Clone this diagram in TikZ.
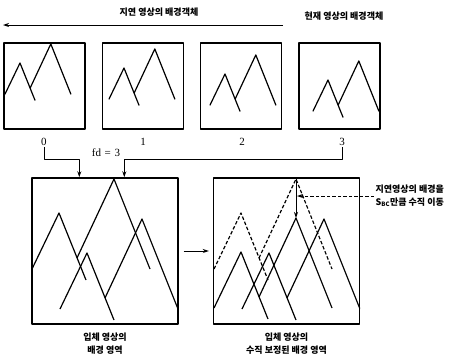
\documentclass[tikz,border=0pt]{standalone}
\usepackage{fontspec}
\setmainfont{Liberation Serif}
\newfontfamily\kr{Noto Sans CJK KR}
\usetikzlibrary{positioning,arrows.meta}

\tikzset{
  peaks/.pic={
    \draw (-27,56) -- (0,0) -- (27,67);
    \draw (18,45) -- (55,-34) -- (91,56);
    \coordinate (-top) at (55,-34);
  },
}

\begin{document}
\begin{tikzpicture}[
  x=1pt, y=-1pt,
  line width=1.2pt, line join=round,
  frame/.style={draw, line width=1.4pt, minimum width=81pt, minimum height=86pt, inner sep=0pt},
  bigframe/.style={frame, minimum width=146pt, minimum height=146pt},
  kor/.style={font=\kr\bfseries\fontsize{9}{13}\selectfont, align=center, inner sep=1pt},
  num/.style={font=\fontsize{11}{13}\selectfont, inner sep=1pt},
  arr/.style={-{Stealth[length=6pt,width=4pt]}, line width=1pt},
  moved/.style={dash pattern=on 3.5pt off 2pt},
]
  \useasboundingbox (0,0) rectangle (459,357);
  % frame sequence
  \node[kor] (past) at (159,12) {지연 영상의 배경객체};
  \node[kor] (now)  at (344,16) {현재 영상의 배경객체};
  \coordinate (tr) at (283,25);
  \coordinate (tl) at (3,25);
  \draw[arr] (tr) -- (tl);
  \node[frame] (f0) at (44.5,86) {};
  \node[frame] (f1) at (143,86)  {};
  \node[frame] (f2) at (241,86)  {};
  \node[frame] (f3) at (339.5,86) {};
  \begin{scope}
    \clip (f0.north west) rectangle (f0.south east);
    \pic[scale=0.56] at (20,63) {peaks};
  \end{scope}
  \begin{scope}
    \clip (f1.north west) rectangle (f1.south east);
    \pic[scale=0.56] at (124,68) {peaks};
  \end{scope}
  \begin{scope}
    \clip (f2.north west) rectangle (f2.south east);
    \pic[scale=0.56] at (225,74) {peaks};
  \end{scope}
  \begin{scope}
    \clip (f3.north west) rectangle (f3.south east);
    \pic[scale=0.56] at (328,80) {peaks};
  \end{scope}
  \node[num] (n0) at (44,142)  {0};
  \node[num] (n1) at (143,142) {1};
  \node[num] (n2) at (242,142) {2};
  \node[num] (n3) at (342,142) {3};
  % stereo background
  \node[bigframe] (b1) at (105,251)   {};
  \node[bigframe] (b2) at (286.5,251) {};
  \node[num] (fd) at (106,153) {fd\,\,=\,\,3};
  \draw[arr] (n0.south) -- ++(0,12) -| ([xshift=48pt]b1.north west);
  \draw[arr] (n3.south) -- ++(0,12) -| ([xshift=93pt]b1.north west);
  \begin{scope}
    \clip (b1.north west) rectangle (b1.south east);
    \pic at (59,213) {peaks};
    \pic at (87,253) {peaks};
  \end{scope}
  \begin{scope}
    \clip (b2.north west) rectangle (b2.south east);
    \pic[moved] (old) at (241,213) {peaks};
    \pic (cor) at (241,252) {peaks};
    \pic at (269,253) {peaks};
  \end{scope}
  \draw[arr] ([xshift=5pt]b1.east) -- ([xshift=-4pt]b2.west);
  \draw[arr] (old-top) -- (cor-top);
  \node[kor, below=7pt of b1] (cap1) {입체 영상의\\배경 영역};
  \node[kor, below=7pt of b2] (cap2) {입체 영상의\\수직 보정된 배경 영역};
  \node[kor, anchor=west, align=left] (note) at (374,196) {지연영상의 배경을\\S\textsubscript{BC}만큼 수직 이동};
  \coordinate (sbc) at (297,196);
  \draw[arr, moved] (note.west) -- (sbc);
\end{tikzpicture}
\end{document}
